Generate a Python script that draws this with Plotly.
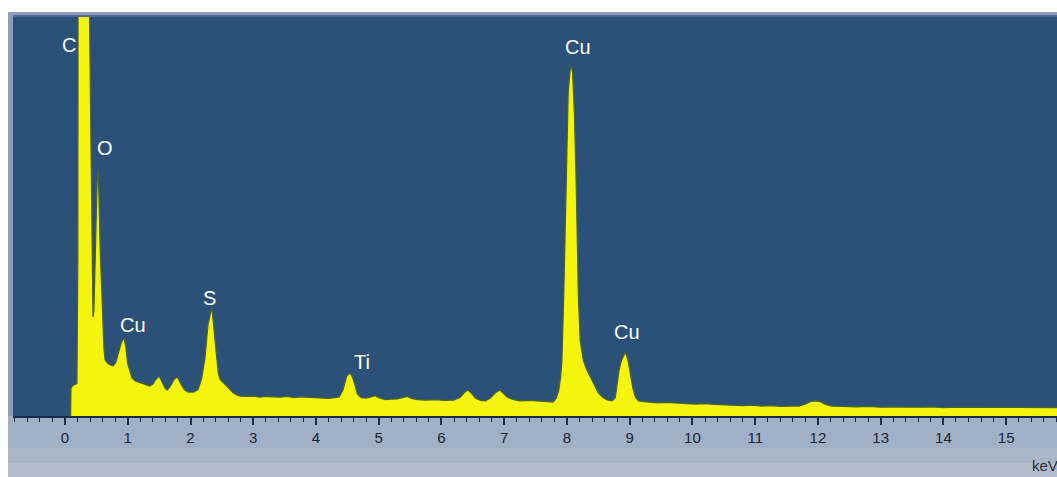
import plotly.graph_objects as go

# EDS spectrum: energy (keV) and detector counts (arbitrary units)
energy_kev = [
    0.09, 0.095, 0.12, 0.15, 0.19, 0.205, 0.21, 0.28, 0.36, 0.39, 0.414, 0.435,
    0.446, 0.46, 0.48, 0.50, 0.515, 0.526, 0.54, 0.56, 0.59, 0.62, 0.64, 0.68,
    0.72, 0.77, 0.81, 0.86, 0.90, 0.94, 0.97, 1.00, 1.04, 1.07, 1.12, 1.20,
    1.27, 1.35, 1.40, 1.45, 1.50, 1.55, 1.60, 1.63, 1.68, 1.74, 1.79, 1.84,
    1.90, 1.96, 2.05, 2.12, 2.18, 2.23, 2.28, 2.34, 2.38, 2.41, 2.44, 2.47,
    2.52, 2.57, 2.62, 2.68, 2.74, 2.79, 2.90, 3.00, 3.10, 3.20, 3.30, 3.43,
    3.55, 3.65, 3.75, 3.88, 4.00, 4.10, 4.20, 4.30, 4.37, 4.43, 4.49, 4.54,
    4.58, 4.62, 4.66, 4.72, 4.80, 4.88, 4.94, 5.00, 5.10, 5.20, 5.30, 5.38,
    5.45, 5.52, 5.62, 5.75, 5.90, 6.05, 6.20, 6.30, 6.36, 6.42, 6.48, 6.54,
    6.62, 6.70, 6.78, 6.86, 6.93, 6.99, 7.05, 7.15, 7.25, 7.40, 7.55, 7.70,
    7.78, 7.83, 7.87, 7.90, 7.92, 7.95, 7.98, 8.02, 8.05, 8.07, 8.09, 8.12,
    8.15, 8.18, 8.21, 8.26, 8.31, 8.37, 8.44, 8.50, 8.57, 8.64, 8.72, 8.77,
    8.80, 8.83, 8.87, 8.93, 8.97, 9.01, 9.05, 9.09, 9.14, 9.22, 9.30, 9.45,
    9.60, 9.75, 9.90, 10.05, 10.20, 10.35, 10.50, 10.65, 10.80, 10.95, 11.10,
    11.25, 11.40, 11.55, 11.70, 11.80, 11.88, 11.96, 12.04, 12.12, 12.22,
    12.40, 12.60, 12.80, 13.00, 13.20, 13.40, 13.60, 13.80, 14.00, 14.20,
    14.40, 14.60, 14.80, 15.00, 15.20, 15.40, 15.60, 15.82,
]
counts = [
    0, 70, 76, 78, 82, 400, 1800, 2600, 1800, 1000, 620, 330,
    248, 262, 380, 540, 605, 618, 560, 420, 290, 170, 140, 132,
    128, 126, 135, 160, 185, 196, 172, 130, 108, 95, 88, 83,
    80, 75, 80, 92, 100, 82, 68, 65, 75, 92, 98, 82,
    66, 60, 60, 66, 95, 145, 230, 273, 210, 153, 110, 92,
    84, 78, 68, 58, 53, 50, 49, 50, 47, 49, 48, 47,
    49, 46, 48, 47, 45, 46, 44, 46, 48, 65, 100, 108,
    98, 78, 55, 46, 45, 48, 51, 46, 41, 42, 43, 46,
    49, 44, 41, 40, 41, 39, 40, 47, 58, 65, 57, 45,
    39, 38, 45, 58, 65, 56, 47, 41, 38, 39, 37, 36,
    35, 45, 65, 100, 140, 310, 560, 810, 868, 877, 860, 750,
    560, 310, 190, 140, 118, 98, 75, 58, 47, 40, 38, 46,
    80, 115, 140, 160, 142, 110, 70, 48, 38, 36, 35, 33,
    34, 32, 31, 30, 31, 29, 28, 27, 26, 27, 25,
    26, 24, 25, 25, 30, 36, 38, 36, 29, 25,
    24, 23, 24, 22, 23, 22, 22, 23, 21, 22,
    22, 21, 22, 21, 22, 21, 22, 21,
]

# Element labels placed above their peaks
label_text = ["C", "O", "Cu", "S", "Ti", "Cu", "Cu"]
label_energy = [0.06, 0.64, 1.08, 2.30, 4.73, 8.18, 8.96]
label_height = [930, 672, 228, 296, 135, 925, 211]

tick_values = list(range(16))
tick_labels = [str(v) for v in tick_values]

W, H = 1057, 477
L, R, T, B = 13, 0, 17, 61
PW, PH = W - L - R, H - T - B


def px_x(px):
    return (px - L) / PW


def px_y(py):
    return (H - B - py) / PH


def band(x0, x1, y0, y1, color):
    # rectangle given in page pixels (y measured from the top)
    return dict(type="rect", xref="paper", yref="paper",
                x0=px_x(x0), x1=px_x(x1), y0=px_y(y1), y1=px_y(y0),
                fillcolor=color, line=dict(width=0), layer="below")


fig = go.Figure()
fig.add_trace(go.Scatter(
    x=energy_kev, y=counts, mode="lines", fill="tozeroy",
    fillcolor="#f4f40c", line=dict(color="#4a6428", width=1.2),
    hoverinfo="skip", showlegend=False,
))

shapes = [
    band(8, W, 12, 15, "#8e9dbe"),     # top rim
    band(8, W, 15, 17, "#4f6a92"),     # top rim shadow
    band(8, 13, 15, 416, "#8e9dbe"),   # left rim
    band(8, W, 416, 448, "#a1b0c6"),   # lower panel
    band(8, W, 448, 463, "#a9b6c8"),
    band(8, W, 463, H, "#b2bdcb"),
]

annotations = [
    dict(x=xv, y=yv, xref="x", yref="y", text=t, showarrow=False,
         font=dict(family="Arial", size=20, color="white"),
         xanchor="center", yanchor="middle")
    for t, xv, yv in zip(label_text, label_energy, label_height)
]
annotations.append(dict(
    x=px_x(1030), y=px_y(466), xref="paper", yref="paper", text="keV",
    showarrow=False, xanchor="left", yanchor="middle",
    font=dict(family="Arial", size=15, color="#222a36"),
))

fig.update_layout(
    width=W, height=H,
    margin=dict(l=L, r=R, t=T, b=B, pad=0),
    paper_bgcolor="white",
    plot_bgcolor="#2b5179",
    shapes=shapes,
    annotations=annotations,
    xaxis=dict(
        range=[-0.829, 15.81],
        tickmode="array", tickvals=tick_values, ticktext=tick_labels,
        ticks="outside", ticklen=7, tickwidth=1.5, tickcolor="#1c2a48",
        minor=dict(dtick=0.2, tick0=0, ticks="outside", ticklen=4,
                   tickwidth=1.2, tickcolor="#1c2a48", showgrid=False),
        showline=True, linecolor="#1c2a48", linewidth=2,
        showgrid=False, zeroline=False,
        tickfont=dict(family="Arial", size=15, color="#1a2433"),
        fixedrange=True,
    ),
    yaxis=dict(range=[0, 1000], visible=False, fixedrange=True),
)

fig.write_html("out.html")
